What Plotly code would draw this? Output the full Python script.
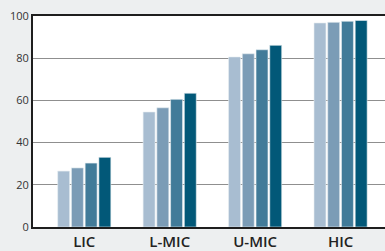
import plotly.graph_objects as go

categories = ["LIC", "L-MIC", "U-MIC", "HIC"]
series1 = [26.5, 54.5, 80.6, 96.7]
series2 = [28.0, 56.5, 82.1, 97.0]
series3 = [30.3, 60.5, 84.0, 97.5]
series4 = [33.0, 63.4, 86.1, 97.9]
series_names = ["Series 1", "Series 2", "Series 3", "Series 4"]
colors = ["#a8bdd1", "#7b9cb6", "#417b99", "#025878"]
y_ticks = [0, 20, 40, 60, 80, 100]

fig = go.Figure()
for name, vals, col in zip(series_names, [series1, series2, series3, series4], colors):
    fig.add_trace(go.Bar(x=categories, y=vals, name=name,
                         marker=dict(color=col, line=dict(color="#e8eef2", width=0.6))))

fig.update_layout(
    width=385, height=251,
    margin=dict(l=33, r=0, t=16, b=24, autoexpand=False),
    paper_bgcolor="#edeff0",
    plot_bgcolor="#ffffff",
    showlegend=False,
    barmode="group",
    bargap=0.357,
    bargroupgap=0.13,
    font=dict(family="Open Sans, sans-serif"),
)
fig.update_xaxes(
    range=[-0.6, 3.52], automargin=False,
    showline=True, linecolor="#1e1e1e", linewidth=2, mirror=True,
    ticks="", showgrid=False, ticklabelstandoff=0,
    tickfont=dict(size=15, color="#222222", family="Open Sans, sans-serif", weight=600),
)
fig.update_yaxes(
    range=[0, 100], tickvals=y_ticks, automargin=False,
    showline=True, linecolor="#1e1e1e", linewidth=2,
    showgrid=True, gridcolor="#8f8f8f", gridwidth=1,
    zeroline=False, ticks="",
    tickfont=dict(size=11, color="#333333"),
)
fig.write_html("out.html", config={"displayModeBar": False},
               post_script="document.body.style.margin='0';document.body.style.background='#edeff0';")
